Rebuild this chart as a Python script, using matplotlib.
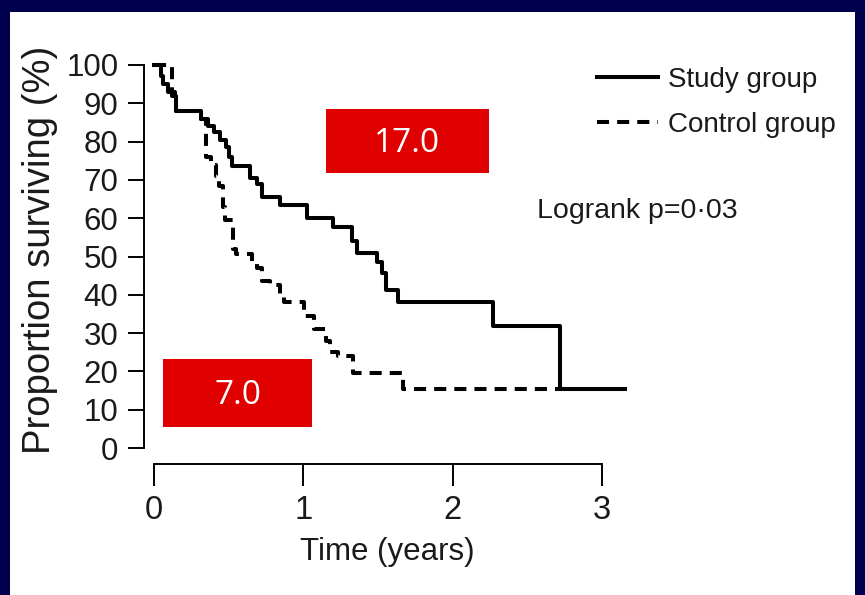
import matplotlib
matplotlib.use("Agg")
import matplotlib.pyplot as plt
from matplotlib.patches import Rectangle

# -------------------------
# data
# -------------------------
# time (years) at which each step starts, and % surviving after it
study_t = [0.0, 0.047, 0.06, 0.094, 0.14, 0.147, 0.315, 0.362, 0.40, 0.44,
           0.48, 0.50, 0.52, 0.643, 0.69, 0.723, 0.844, 1.025, 1.20, 1.326,
           1.36, 1.494, 1.527, 1.554, 1.634, 2.27, 2.72, 3.155]
study_s = [100, 97, 95, 93, 92, 88, 86, 84, 82.5, 80.5,
           78.5, 76, 73.5, 70.5, 69, 65.5, 63.4, 60, 57.7, 54,
           51, 48.6, 45.7, 41.3, 38, 31.8, 15.4, 15.4]

control_t = [0.0, 0.12, 0.147, 0.315, 0.35, 0.38, 0.415, 0.435, 0.462, 0.476,
             0.53, 0.55, 0.656, 0.69, 0.723, 0.777, 0.844, 0.87, 1.005, 1.07,
             1.15, 1.18, 1.232, 1.333, 1.668, 2.72]
control_s = [100, 92, 88, 86, 76, 74, 71, 68.5, 63, 59.5,
             52, 50.6, 48, 47, 43.5, 42.5, 40, 38, 34.5, 31,
             28, 25, 24, 19.6, 15.4, 15.4]

y_ticks = list(range(0, 101, 10))
x_ticks = [0, 1, 2, 3]
median_labels = ["17.0", "7.0"]

NAVY = "#00004e"
RED = "#e00000"
INK = "#1a1a1a"
sans = ["Liberation Sans", "DejaVu Sans"]

W, H = 865, 595
fig = plt.figure(figsize=(W / 100, H / 100), dpi=100)
fig.patch.set_facecolor(NAVY)
fig.add_artist(Rectangle((10 / W, 0), 845 / W, 1 - 12 / H,
                         transform=fig.transFigure, facecolor="white",
                         edgecolor="none", zorder=0))

# axes: y=0..100 maps to py 448..65, x=0 at px 154, 149.3 px per year
px_year = 149.3
ax = fig.add_axes([144 / W, 1 - 448 / H, (640 - 144) / W, 383 / H])
ax.set_facecolor("none")
ax.set_xlim(-10 / px_year, (640 - 154) / px_year)
ax.set_ylim(0, 100)

ax.step(control_t, control_s, where="post", color="black", lw=2.9,
        dashes=(3, 2), clip_on=False, label="Control group")
ax.step(study_t, study_s, where="post", color="black", lw=2.9,
        clip_on=False, label="Study group")

for side in ["top", "right"]:
    ax.spines[side].set_visible(False)
ax.spines["left"].set_bounds(0, 100)
ax.spines["left"].set_linewidth(1.4)
ax.spines["bottom"].set_position(("outward", 11.5))
ax.spines["bottom"].set_bounds(0, 3)
ax.spines["bottom"].set_linewidth(1.4)

ax.set_yticks(y_ticks)
ax.set_xticks(x_ticks)
ax.tick_params(axis="y", direction="out", length=11.5, width=1.4, pad=7)
ax.tick_params(axis="x", direction="out", length=16, width=1.4, pad=6)
for lab in ax.get_yticklabels():
    lab.set_fontfamily(sans)
    lab.set_fontsize(22.5)
    lab.set_color(INK)
for lab in ax.get_xticklabels():
    lab.set_fontfamily(sans)
    lab.set_fontsize(23.5)
    lab.set_color(INK)

ax.set_ylabel("Proportion surviving (%)", fontsize=27.5, fontfamily=sans,
              color=INK)
ax.yaxis.set_label_coords((58 - 144) / 496, (448 - 250) / 383)
ax.set_xlabel("Time (years)", fontsize=22.5, fontfamily=sans, color=INK)
ax.xaxis.set_label_coords((387 - 144) / 496, (448 - 537) / 383)

# legend, study first
h, l = ax.get_legend_handles_labels()
leg = ax.legend(h[::-1], l[::-1], loc="upper left",
                bbox_to_anchor=(597 / W, 1 - 67 / H),
                bbox_transform=fig.transFigure, frameon=False,
                prop={"family": sans, "size": 20},
                handlelength=2.2, handletextpad=0.36, labelspacing=0.68,
                borderpad=0, borderaxespad=0)
for t in leg.get_texts():
    t.set_color(INK)

fig.text(537 / W, 1 - 211 / H, "Logrank p=0\u00b703", fontsize=20.5,
         fontfamily=sans, va="center", ha="left", color=INK)

# red median boxes
boxes = [(326, 109, 163, 64), (163, 359, 149, 68)]
for (bx, by, bw, bh), txt in zip(boxes, median_labels):
    fig.add_artist(Rectangle((bx / W, 1 - (by + bh) / H), bw / W, bh / H,
                             transform=fig.transFigure, facecolor=RED,
                             edgecolor="none", zorder=3))
    fig.text((bx + bw / 2) / W, 1 - (by + bh / 2 + 2) / H, txt, color="white",
             fontsize=24, fontfamily=["Open Sans", "DejaVu Sans"],
             ha="center", va="center", zorder=4)

fig.savefig("out.png", dpi=100, facecolor=fig.get_facecolor())
